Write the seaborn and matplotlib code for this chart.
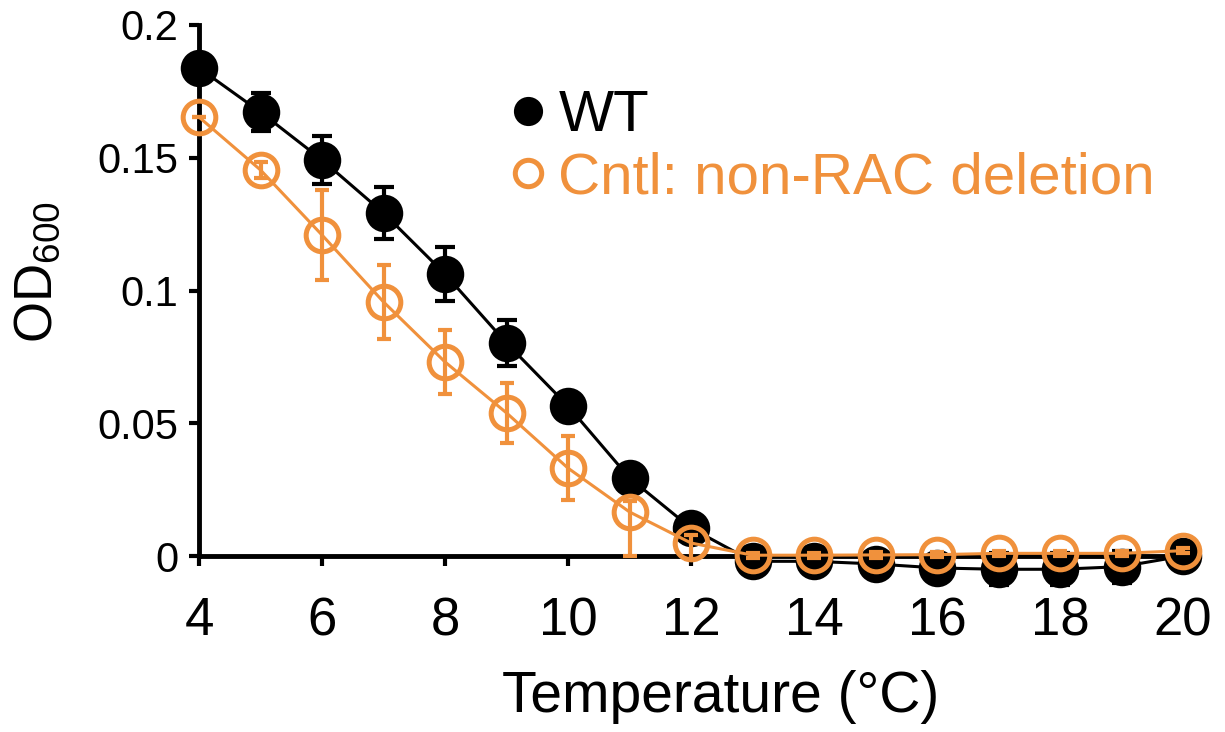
import numpy as np
import pandas as pd
import seaborn as sns
import matplotlib.pyplot as plt
from matplotlib import lines

# Data
temps = [4, 5, 6, 7, 8, 9, 10, 11, 12, 13, 14, 15, 16, 17, 18, 19, 20]

wt_mean = [0.1838, 0.1672, 0.1492, 0.1292, 0.1062, 0.0802, 0.0565, 0.0294, 0.0105,
           -0.002, -0.002, -0.003, -0.0045, -0.005, -0.005, -0.004, 0.000]
wt_err = [0.0, 0.007, 0.009, 0.0097, 0.010, 0.0088, 0.002, 0.002, 0.002,
          0.003, 0.003, 0.003, 0.005, 0.006, 0.006, 0.006, 0.001]

cntl_mean = [0.1653, 0.1454, 0.1209, 0.0957, 0.0731, 0.0539, 0.0331, 0.0166, 0.0049,
             0.0003, 0.0003, 0.0004, 0.0005, 0.0010, 0.0010, 0.0010, 0.0020]
cntl_err_low = [0.0, 0.003, 0.0168, 0.014, 0.012, 0.0113, 0.012, 0.0166, 0.006,
                0.001, 0.001, 0.001, 0.001, 0.001, 0.001, 0.001, 0.001]
cntl_err_high = [0.0, 0.003, 0.0168, 0.014, 0.012, 0.0113, 0.012, 0.004, 0.003,
                 0.001, 0.001, 0.001, 0.001, 0.001, 0.001, 0.001, 0.001]

x_ticks = [4, 6, 8, 10, 12, 14, 16, 18, 20]
y_ticks = [0, 0.05, 0.1, 0.15, 0.2]
y_tick_labels = ["0", "0.05", "0.1", "0.15", "0.2"]

series_labels = ["WT", "Cntl: non-RAC deletion"]

BLACK = "#000000"
ORANGE = "#F0913C"

sns.set_style("ticks")
plt.rcParams["font.family"] = ["Liberation Sans", "DejaVu Sans"]
plt.rcParams["mathtext.fontset"] = "custom"
plt.rcParams["mathtext.rm"] = "Liberation Sans"
plt.rcParams["text.color"] = BLACK
plt.rcParams["axes.labelcolor"] = BLACK
plt.rcParams["axes.edgecolor"] = BLACK
plt.rcParams["xtick.color"] = BLACK
plt.rcParams["ytick.color"] = BLACK

df = pd.DataFrame({
    "temp": temps,
    "wt": wt_mean,
    "cntl": cntl_mean,
})

fig = plt.figure(figsize=(12.25, 7.32), dpi=100)
ax = fig.add_axes([199 / 1225, 1 - 556 / 732, 984 / 1225, 531 / 732])

# -------------------------------------------------------------------------
# WT: filled black circles
sns.lineplot(
    data=df, x="temp", y="wt", ax=ax, color=BLACK, linewidth=2.2,
    marker="o", markersize=27, markerfacecolor=BLACK, markeredgecolor=BLACK,
    markeredgewidth=0, clip_on=False, zorder=3, legend=False,
)
ax.errorbar(
    temps, wt_mean, yerr=wt_err, fmt="none", ecolor=BLACK,
    elinewidth=3, capsize=7.5, capthick=3, clip_on=False, zorder=3,
)

# Control: open orange circles
sns.lineplot(
    data=df, x="temp", y="cntl", ax=ax, color=ORANGE, linewidth=2.2,
    marker="o", markersize=23.5, markerfacecolor="none", markeredgecolor=ORANGE,
    markeredgewidth=3.6, clip_on=False, zorder=4, legend=False,
)
ax.errorbar(
    temps, cntl_mean, yerr=[cntl_err_low, cntl_err_high], fmt="none",
    ecolor=ORANGE, elinewidth=3, capsize=5, capthick=3, clip_on=False, zorder=4,
)

# -------------------------------------------------------------------------
# Axes
ax.set_xlim(4, 20)
ax.set_ylim(0, 0.2)
ax.set_xticks(x_ticks)
ax.set_xticklabels([str(t) for t in x_ticks], fontsize=38)
ax.set_yticks(y_ticks)
ax.set_yticklabels(y_tick_labels, fontsize=30)

for spine in ["top", "right"]:
    ax.spines[spine].set_visible(False)
for spine in ["left", "bottom"]:
    ax.spines[spine].set_linewidth(3.5)
    ax.spines[spine].set_zorder(2)

ax.tick_params(axis="both", direction="out", length=7, width=3, color=BLACK)
ax.tick_params(axis="x", pad=22)
ax.tick_params(axis="y", pad=8)

ax.set_xlabel("Temperature (°C)", fontsize=41)
ax.xaxis.set_label_coords((721 - 199) / 984, -0.215)
ax.set_ylabel(r"OD$_{\mathregular{600}}$", fontsize=38)
ax.yaxis.set_label_coords(-0.138, 0.535)

# -------------------------------------------------------------------------
# Legend
legend_handles = [
    lines.Line2D([], [], linestyle="none", marker="o", markersize=21,
                 markerfacecolor=BLACK, markeredgecolor=BLACK, markeredgewidth=0),
    lines.Line2D([], [], linestyle="none", marker="o", markersize=19,
                 markerfacecolor="none", markeredgecolor=ORANGE, markeredgewidth=3.6),
]
legend = fig.legend(
    handles=legend_handles, labels=series_labels, loc="upper left",
    bbox_to_anchor=(500 / 1225, 1 - 89 / 732), frameon=False, fontsize=42,
    handlelength=0.95, handletextpad=0.05, labelspacing=0.14, borderpad=0,
    borderaxespad=0,
)
legend.get_texts()[1].set_color(ORANGE)

fig.savefig("out.png", dpi=100)
